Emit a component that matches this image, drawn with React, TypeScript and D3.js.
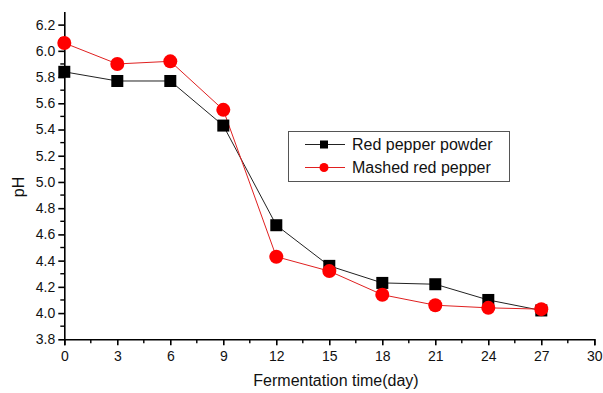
import { useEffect, useRef } from "react"
import * as d3 from "d3"

const days = [0, 3, 6, 9, 12, 15, 18, 21, 24, 27]
const powder = [5.84, 5.77, 5.77, 5.43, 4.67, 4.36, 4.23, 4.22, 4.1, 4.02]
const mashed = [6.06, 5.9, 5.92, 5.55, 4.43, 4.32, 4.14, 4.06, 4.04, 4.03]
const xTicks = [0, 3, 6, 9, 12, 15, 18, 21, 24, 27, 30]
const yTicks = [3.8, 4.0, 4.2, 4.4, 4.6, 4.8, 5.0, 5.2, 5.4, 5.6, 5.8, 6.0, 6.2]
const seriesNames = ["Red pepper powder", "Mashed red pepper"]

const W = 603, H = 393
const FONT = "Liberation Sans, Arial, sans-serif"

export default function App() {
  const ref = useRef<SVGSVGElement>(null)
  useEffect(() => {
    if (!ref.current) return
    const svg = d3.select(ref.current)
    svg.selectAll("*").remove()
    const x = d3.scaleLinear().domain([0, 30]).range([64.3, 594.3])
    const y = d3.scaleLinear().domain([3.8, 6.3]).range([339.3, 11.5])

    // x axis
    const gx = svg.append("g").attr("transform", `translate(0,${y(3.8)})`)
    gx.call(d3.axisBottom(x).tickValues(xTicks).tickFormat(d3.format("d")).tickSize(6).tickPadding(6))
      .call(g => {
        g.select(".domain").attr("stroke", "#000").attr("stroke-width", 1.6)
        g.selectAll(".tick line").attr("stroke", "#000").attr("stroke-width", 1.6)
        g.selectAll("text").style("font-family", FONT).style("font-size", "14px").attr("fill", "#111")
      })
    gx.selectAll(".minor").data(d3.range(1.5, 30, 3)).join("line").attr("class", "minor")
      .attr("x1", d => x(d)).attr("x2", d => x(d)).attr("y1", 0).attr("y2", 4)
      .attr("stroke", "#000").attr("stroke-width", 1.4)

    // y axis
    const gy = svg.append("g").attr("transform", `translate(${x(0)},0)`)
    gy.call(d3.axisLeft(y).tickValues(yTicks).tickFormat(d3.format(".1f")).tickSize(6).tickSizeOuter(0).tickPadding(3))
      .call(g => {
        g.select(".domain").attr("stroke", "#000").attr("stroke-width", 1.6)
        g.selectAll(".tick line").attr("stroke", "#000").attr("stroke-width", 1.6)
        g.selectAll("text").style("font-family", FONT).style("font-size", "14px").attr("fill", "#111")
      })
    gy.selectAll(".minor").data(d3.range(3.9, 6.3, 0.2)).join("line").attr("class", "minor")
      .attr("x1", -4).attr("x2", 0).attr("y1", d => y(d)).attr("y2", d => y(d))
      .attr("stroke", "#000").attr("stroke-width", 1.4)

    // axis titles
    svg.append("text").attr("x", 336).attr("y", 386).attr("text-anchor", "middle")
      .style("font-family", FONT).style("font-size", "16px").attr("fill", "#111").text("Fermentation time(day)")
    svg.append("text").attr("transform", `translate(24,187) rotate(-90)`).attr("text-anchor", "middle")
      .style("font-family", FONT).style("font-size", "16px").attr("fill", "#111").text("pH")

    const line = d3.line<number>().x((_, i) => x(days[i])).y(d => y(d))
    svg.append("path").attr("d", line(powder)).attr("fill", "none").attr("stroke", "#222").attr("stroke-width", 1)
    svg.append("path").attr("d", line(mashed)).attr("fill", "none").attr("stroke", "#e02020").attr("stroke-width", 1)
    svg.selectAll(".sq").data(powder).join("rect").attr("class", "sq")
      .attr("x", (_, i) => x(days[i]) - 6).attr("y", d => y(d) - 6).attr("width", 12).attr("height", 12).attr("fill", "#000")
    svg.selectAll(".ci").data(mashed).join("circle").attr("class", "ci")
      .attr("cx", (_, i) => x(days[i])).attr("cy", d => y(d)).attr("r", 7).attr("fill", "#f00")

    // legend
    const lg = svg.append("g")
    lg.append("rect").attr("x", 288.5).attr("y", 131.5).attr("width", 221).attr("height", 50)
      .attr("fill", "#fff").attr("stroke", "#555").attr("stroke-width", 1)
    seriesNames.forEach((name, i) => {
      const cy = 144.5 + i * 23
      lg.append("line").attr("x1", 305).attr("x2", 345).attr("y1", cy).attr("y2", cy)
        .attr("stroke", i === 0 ? "#222" : "#e02020").attr("stroke-width", 1)
      if (i === 0) lg.append("rect").attr("x", 320).attr("y", cy - 4).attr("width", 8).attr("height", 8).attr("fill", "#000")
      else lg.append("circle").attr("cx", 324).attr("cy", cy).attr("r", 4.5).attr("fill", "#f00")
      lg.append("text").attr("x", 352).attr("y", cy).attr("dy", "0.35em")
        .style("font-family", FONT).style("font-size", "16px").attr("fill", "#111").text(name)
    })
  }, [])
  return <svg ref={ref} width={W} height={H} style={{ position: "absolute", left: 0, top: 0, background: "#fff" }} />
}
